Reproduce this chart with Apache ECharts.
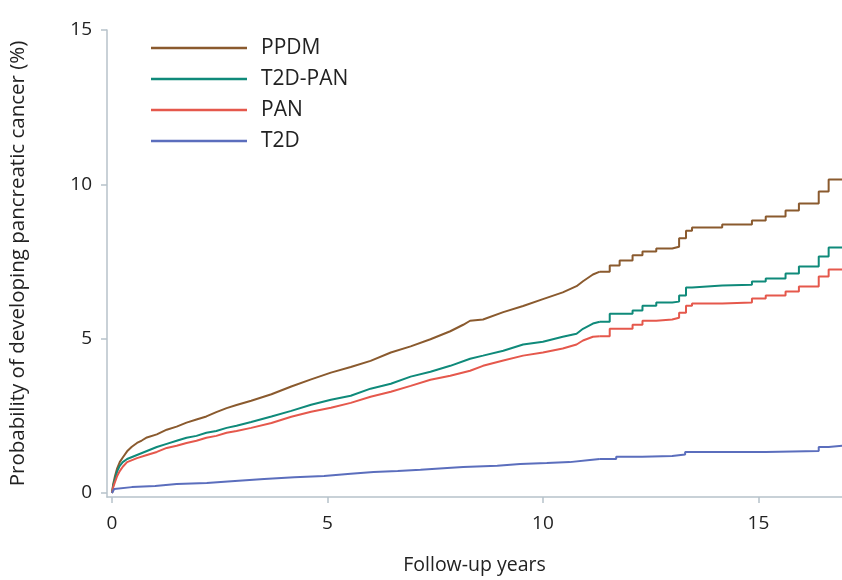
<!DOCTYPE html>
<html>
<head>
<meta charset="utf-8">
<script src="https://cdn.jsdelivr.net/npm/echarts@6/dist/echarts.min.js"></script>
<style>
  html, body { margin: 0; padding: 0; background: #fff; }
  #chart { width: 842px; height: 580px; }
</style>
</head>
<body>
<div id="chart"></div>
<script>
// follow-up years and cumulative probability (%)
var ppdmYears = [0, 0.03, 0.07, 0.12, 0.18, 0.25, 0.35, 0.46, 0.58, 0.69, 0.81, 1.04, 1.27, 1.5, 1.73, 1.96, 2.19, 2.42, 2.66, 2.89, 3.23, 3.7, 4.16, 4.62, 5.08, 5.54, 6.0, 6.47, 6.93, 7.39, 7.85, 8.15, 8.31, 8.61, 9.08, 9.54, 10.0, 10.46, 10.78, 10.93, 11.16, 11.32, 11.55, 11.78, 12.08, 12.31, 12.63, 13.0, 13.16, 13.32, 13.46, 14.16, 14.85, 15.17, 15.63, 15.94, 16.4, 16.63, 16.95];
var ppdmProb  = [0, 0.3, 0.55, 0.8, 1.0, 1.15, 1.35, 1.5, 1.62, 1.7, 1.8, 1.9, 2.05, 2.15, 2.28, 2.38, 2.48, 2.62, 2.75, 2.85, 2.99, 3.2, 3.45, 3.68, 3.9, 4.08, 4.28, 4.55, 4.75, 4.98, 5.24, 5.45, 5.58, 5.62, 5.86, 6.06, 6.28, 6.5, 6.7, 6.86, 7.08, 7.17, 7.37, 7.53, 7.7, 7.82, 7.92, 7.98, 8.25, 8.5, 8.6, 8.7, 8.83, 8.96, 9.15, 9.38, 9.77, 10.16, 10.16];

var t2dPanYears = [0, 0.03, 0.07, 0.12, 0.18, 0.25, 0.35, 0.58, 0.81, 1.04, 1.27, 1.5, 1.73, 1.96, 2.19, 2.42, 2.66, 2.89, 3.23, 3.7, 4.16, 4.62, 5.08, 5.54, 6.0, 6.47, 6.93, 7.39, 7.85, 8.31, 8.61, 9.08, 9.54, 10.0, 10.46, 10.78, 10.93, 11.16, 11.32, 11.55, 12.08, 12.31, 12.63, 13.0, 13.16, 13.32, 13.46, 14.16, 14.85, 15.17, 15.63, 15.94, 16.4, 16.63, 16.95];
var t2dPanProb  = [0, 0.25, 0.45, 0.7, 0.88, 1.0, 1.1, 1.23, 1.36, 1.49, 1.59, 1.69, 1.79, 1.85, 1.95, 2.01, 2.11, 2.18, 2.3, 2.48, 2.66, 2.86, 3.02, 3.15, 3.38, 3.54, 3.77, 3.93, 4.12, 4.35, 4.45, 4.61, 4.81, 4.9, 5.06, 5.16, 5.32, 5.49, 5.55, 5.81, 5.91, 6.07, 6.17, 6.2, 6.4, 6.66, 6.72, 6.75, 6.85, 6.95, 7.11, 7.34, 7.66, 7.95, 7.95];

var panYears = [0, 0.03, 0.07, 0.12, 0.18, 0.25, 0.35, 0.58, 0.81, 1.04, 1.27, 1.5, 1.73, 1.96, 2.19, 2.42, 2.66, 2.89, 3.23, 3.7, 4.16, 4.62, 5.08, 5.54, 6.0, 6.47, 6.93, 7.39, 7.85, 8.31, 8.61, 9.08, 9.54, 10.0, 10.46, 10.78, 10.93, 11.16, 11.32, 11.55, 12.08, 12.31, 12.63, 13.0, 13.16, 13.32, 13.46, 14.16, 14.85, 15.17, 15.63, 15.94, 16.4, 16.63, 16.95];
var panProb  = [0, 0.2, 0.36, 0.55, 0.71, 0.85, 1.0, 1.13, 1.23, 1.33, 1.46, 1.53, 1.62, 1.69, 1.79, 1.85, 1.95, 2.01, 2.11, 2.27, 2.47, 2.63, 2.76, 2.92, 3.12, 3.28, 3.47, 3.67, 3.8, 3.96, 4.12, 4.29, 4.45, 4.55, 4.68, 4.81, 4.94, 5.06, 5.08, 5.32, 5.45, 5.58, 5.62, 5.68, 5.84, 6.07, 6.14, 6.17, 6.3, 6.4, 6.53, 6.69, 7.01, 7.24, 7.24];

var t2dYears = [0, 0.05, 0.46, 1.0, 1.5, 2.2, 2.77, 3.53, 4.23, 4.92, 5.54, 6.07, 6.63, 7.16, 7.78, 8.15, 8.94, 9.47, 10.09, 10.62, 11.09, 11.32, 11.7, 12.3, 13.0, 13.3, 15.17, 16.4, 16.63, 16.95];
var t2dProb  = [0, 0.13, 0.19, 0.23, 0.29, 0.32, 0.38, 0.45, 0.51, 0.55, 0.62, 0.68, 0.71, 0.75, 0.81, 0.84, 0.88, 0.94, 0.97, 1.0, 1.07, 1.1, 1.17, 1.2, 1.25, 1.33, 1.36, 1.49, 1.53, 1.53];

var xTicks = [0, 5, 10, 15];
var yTicks = [0, 5, 10, 15];
// events are dense before this year (drawn as a line), sparse after (drawn as steps)
var stepFrom = 11.32;

function pairs(xs, ys, from, to) {
  var out = [];
  for (var i = 0; i < xs.length; i++) {
    if (xs[i] >= from && xs[i] <= to) out.push([xs[i], ys[i]]);
  }
  return out;
}

function kmSeries(name, color, xs, ys) {
  var base = {
    name: name,
    type: 'line',
    symbol: 'none',
    lineStyle: { color: color, width: 2 },
    itemStyle: { color: color },
    emphasis: { disabled: true }
  };
  var dense = Object.assign({}, base, { data: pairs(xs, ys, 0, stepFrom) });
  var sparse = Object.assign({}, base, { step: 'end', data: pairs(xs, ys, stepFrom, 99) });
  return [dense, sparse];
}

var chart = echarts.init(document.getElementById('chart'));
var axisGrey = '#b7c2ca';

var option = {
  animation: false,
  textStyle: { fontFamily: 'Open Sans' },
  grid: { left: 105, right: 0, top: 30, bottom: 82 },
  legend: {
    orient: 'vertical',
    left: 146,
    top: 32,
    icon: 'rect',
    itemWidth: 96,
    itemHeight: 2.5,
    itemGap: 9,
    textStyle: { fontSize: 21, color: '#222', lineHeight: 22, padding: [0, 0, 0, 9], fontFamily: 'Open Sans' },
    data: ['PPDM', 'T2D-PAN', 'PAN', 'T2D']
  },
  xAxis: {
    type: 'value',
    min: -0.116,
    max: 16.94,
    name: 'Follow-up years',
    nameLocation: 'middle',
    nameGap: 58,
    nameTextStyle: { fontSize: 19.5, color: '#222' },
    axisLine: { show: true, onZero: false, lineStyle: { color: axisGrey, width: 1.5 } },
    axisTick: { show: true, length: 6, customValues: xTicks, lineStyle: { color: axisGrey, width: 1.5 } },
    axisLabel: { fontSize: 19, color: '#222', margin: 17, customValues: xTicks },
    splitLine: { show: false }
  },
  yAxis: {
    type: 'value',
    min: -0.13,
    max: 15,
    name: 'Probability of developing pancreatic cancer (%)',
    nameLocation: 'middle',
    nameGap: 78,
    nameTextStyle: { fontSize: 20.5, color: '#222' },
    axisLine: { show: true, onZero: false, lineStyle: { color: axisGrey, width: 1.5 } },
    axisTick: { show: true, length: 6, customValues: yTicks, lineStyle: { color: axisGrey, width: 1.5 } },
    axisLabel: { fontSize: 19, color: '#222', margin: 15, customValues: yTicks },
    splitLine: { show: false }
  },
  series: [].concat(
    kmSeries('PPDM', '#8a5a2e', ppdmYears, ppdmProb),
    kmSeries('T2D-PAN', '#0f8a7a', t2dPanYears, t2dPanProb),
    kmSeries('PAN', '#e5584c', panYears, panProb),
    kmSeries('T2D', '#5b6ebd', t2dYears, t2dProb)
  )
};

chart.setOption(option);
</script>
</body>
</html>
